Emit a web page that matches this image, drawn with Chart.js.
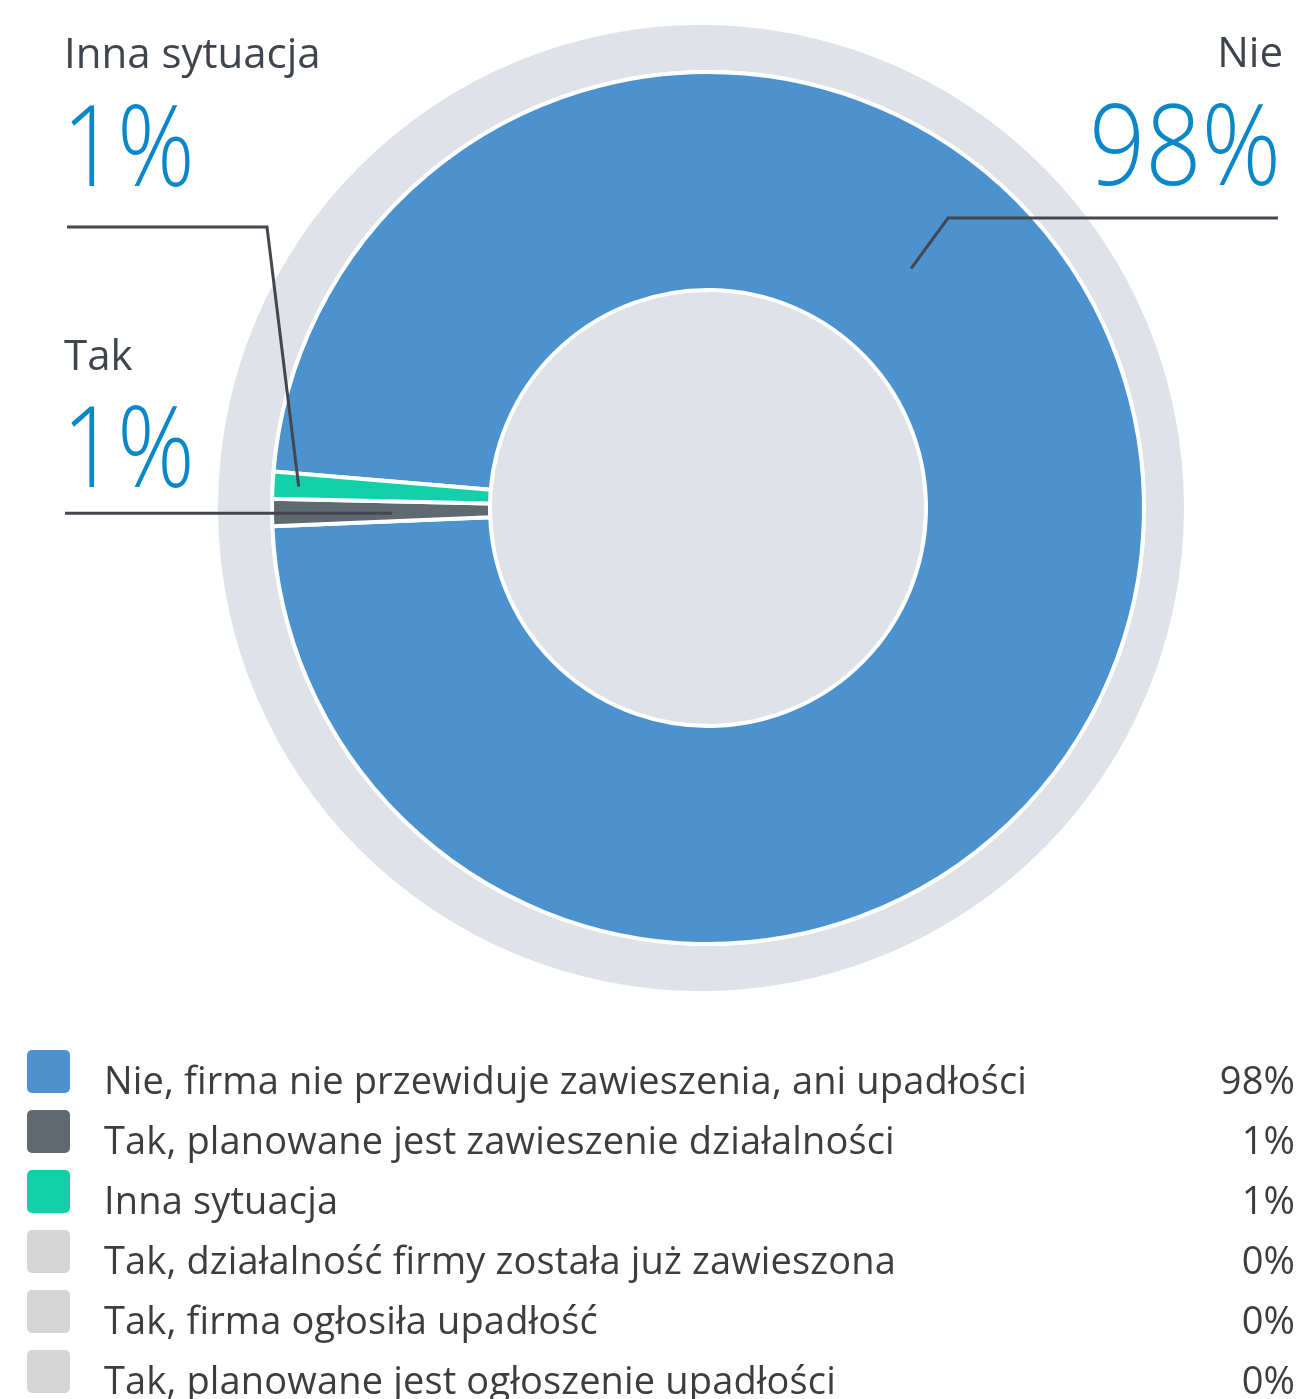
<!DOCTYPE html>
<html lang="pl">
<head>
<meta charset="utf-8">
<title>Czy firma planuje zawieszenie działalności lub upadłość?</title>
<script src="https://cdn.jsdelivr.net/npm/chart.js@4.4.1/dist/chart.umd.min.js"></script>
<style>
  html, body { margin: 0; padding: 0; background: #ffffff; }
  #wrap { position: relative; width: 1301px; height: 1399px; }
</style>
</head>
<body>
<div id="wrap"><canvas id="chart" width="1301" height="1399"></canvas></div>
<script>
// Answer categories (legend order) and their shares in percent
const categories = [
  'Nie, firma nie przewiduje zawieszenia, ani upadłości',
  'Tak, planowane jest zawieszenie działalności',
  'Inna sytuacja',
  'Tak, działalność firmy została już zawieszona',
  'Tak, firma ogłosiła upadłość',
  'Tak, planowane jest ogłoszenie upadłości'
];
const values = [98, 1, 1, 0, 0, 0];
const colors = ['#4b92ce', '#5e6a70', '#14d0aa', '#d5d5d5', '#d5d5d5', '#d5d5d5'];

// Callout headings next to the ring
const calloutTitles = ['Nie', 'Tak', 'Inna sytuacja'];
const calloutIndex = [0, 1, 2];

const FONT = '"Open Sans", "Noto Sans", sans-serif';
const TEXT_DARK = '#40444e';
const PCT_BLUE = '#0a87c9';

// Light grey disc behind the ring, plus the filled centre
const backdrop = {
  id: 'backdrop',
  beforeDatasetsDraw(chart) {
    const arc = chart.getDatasetMeta(0).data[0];
    if (!arc) return;
    const { x, y, outerRadius, innerRadius } = arc.getProps(['x', 'y', 'outerRadius', 'innerRadius'], true);
    const ctx = chart.ctx;
    ctx.save();
    ctx.fillStyle = '#dfe2e9';
    ctx.beginPath();
    ctx.arc(x - 7, y, outerRadius + 47, 0, Math.PI * 2);
    ctx.fill();
    ctx.fillStyle = '#ffffff';
    ctx.beginPath();
    ctx.arc(x, y, outerRadius + 2, 0, Math.PI * 2);
    ctx.fill();
    ctx.fillStyle = '#dfe2e9';
    ctx.beginPath();
    ctx.arc(x, y, innerRadius, 0, Math.PI * 2);
    ctx.fill();
    ctx.restore();
  }
};

// Text drawn with tracking; the trailing spacing is compensated for right alignment
function trackedText(ctx, text, x, y, spacing, align) {
  ctx.save();
  ctx.letterSpacing = spacing + 'px';
  ctx.textAlign = 'left';
  const w = ctx.measureText(text).width - spacing;
  const left = align === 'right' ? x - w : x;
  ctx.fillText(text, left, y);
  ctx.restore();
}

// Large light percentage, slightly condensed horizontally
function condensedText(ctx, text, x, y, squeeze, align) {
  ctx.save();
  ctx.textAlign = 'left';
  const w = ctx.measureText(text).width * squeeze;
  const left = align === 'right' ? x - w : x;
  ctx.translate(left, y);
  ctx.scale(squeeze, 1);
  ctx.fillText(text, 0, 0);
  ctx.restore();
}

// Headings, big percentages and leader lines
const callouts = {
  id: 'callouts',
  afterDatasetsDraw(chart) {
    const meta = chart.getDatasetMeta(0);
    const ctx = chart.ctx;
    const pct = i => values[i] + '%';
    const pointOn = (i, radialFrac, angleOverride) => {
      const a = meta.data[i].getProps(['x', 'y', 'startAngle', 'endAngle', 'innerRadius', 'outerRadius'], true);
      const ang = angleOverride !== undefined ? angleOverride : (a.startAngle + a.endAngle) / 2;
      const r = a.innerRadius + (a.outerRadius - a.innerRadius) * radialFrac;
      return { x: a.x + Math.cos(ang) * r, y: a.y + Math.sin(ang) * r };
    };

    ctx.save();
    ctx.textBaseline = 'alphabetic';

    // right callout: "Nie"
    ctx.textAlign = 'right';
    ctx.fillStyle = TEXT_DARK;
    ctx.font = `400 42px ${FONT}`;
    ctx.fillText(calloutTitles[0], 1283, 67);
    ctx.fillStyle = PCT_BLUE;
    ctx.font = `300 112px ${FONT}`;
    condensedText(ctx, pct(calloutIndex[0]), 1281, 185, 0.88, 'right');

    // left callouts
    ctx.textAlign = 'left';
    ctx.fillStyle = TEXT_DARK;
    ctx.font = `400 42px ${FONT}`;
    ctx.fillText(calloutTitles[2], 64, 68);
    ctx.fillText(calloutTitles[1], 64, 370);
    ctx.fillStyle = PCT_BLUE;
    ctx.font = `300 112px ${FONT}`;
    condensedText(ctx, pct(calloutIndex[2]), 62, 186, 0.86, 'left');
    condensedText(ctx, pct(calloutIndex[1]), 62, 487, 0.86, 'left');

    // leader lines
    ctx.strokeStyle = '#44474f';
    ctx.lineWidth = 3;
    ctx.lineCap = 'butt';
    const pNie = pointOn(0, 0.44, -49.7 * Math.PI / 180);
    ctx.beginPath();
    ctx.moveTo(1278, 218);
    ctx.lineTo(948, 218);
    ctx.lineTo(pNie.x, pNie.y);
    ctx.stroke();

    const pInna = pointOn(2, 0.88);
    ctx.beginPath();
    ctx.moveTo(67, 227);
    ctx.lineTo(267, 227);
    ctx.lineTo(pInna.x, pInna.y);
    ctx.stroke();

    const pTak = pointOn(1, 0.45);
    ctx.beginPath();
    ctx.moveTo(65, pTak.y + 2);
    ctx.lineTo(pTak.x, pTak.y + 2);
    ctx.stroke();
    ctx.restore();
  }
};

// Legend: coloured square, label, value on the right
const legendRows = {
  id: 'legendRows',
  afterDraw(chart) {
    const ctx = chart.ctx;
    ctx.save();
    categories.forEach((label, i) => {
      const top = 1050 + i * 60;
      ctx.fillStyle = colors[i];
      ctx.beginPath();
      ctx.roundRect(27, top, 43, 43, 5);
      ctx.fill();
      ctx.fillStyle = '#3d3d3d';
      ctx.font = `400 38px ${FONT}`;
      ctx.textBaseline = 'alphabetic';
      trackedText(ctx, label, 104, top + 44, 0.15, 'left');
      trackedText(ctx, values[i] + '%', 1295, top + 44, 0.15, 'right');
    });
    ctx.restore();
  }
};

new Chart(document.getElementById('chart'), {
  type: 'doughnut',
  data: {
    labels: categories,
    datasets: [{
      data: values,
      backgroundColor: colors,
      borderColor: '#ffffff',
      borderWidth: 4,
      hoverOffset: 0
    }]
  },
  options: {
    responsive: false,
    animation: false,
    radius: 436,
    cutout: '50%',
    rotation: 274.8,
    layout: { padding: { left: 115, right: 0, top: 0, bottom: 383 } },
    plugins: {
      legend: { display: false },
      tooltip: { enabled: false }
    },
    events: []
  },
  plugins: [backdrop, callouts, legendRows]
});
</script>
</body>
</html>
